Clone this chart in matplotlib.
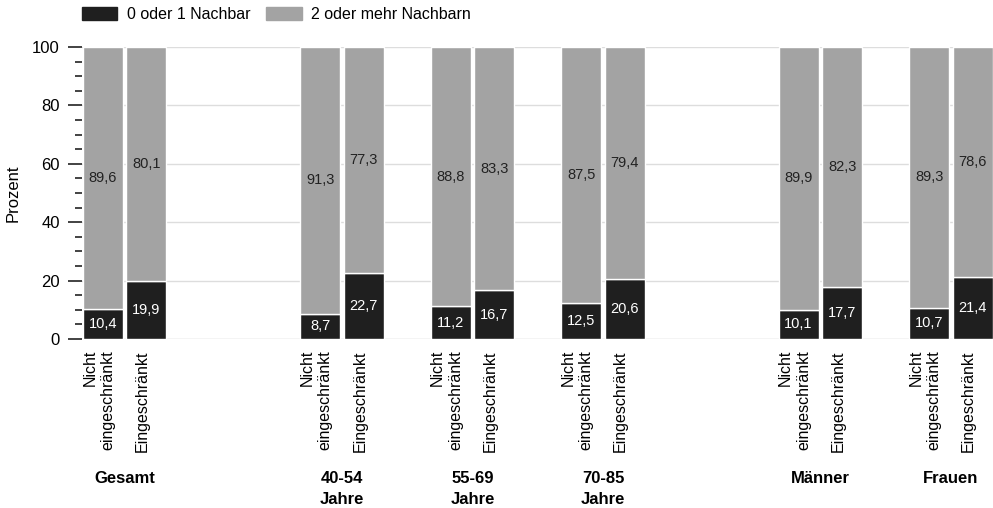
import matplotlib.pyplot as plt
import numpy as np
from matplotlib.patches import Patch
from matplotlib.ticker import MultipleLocator
from matplotlib.transforms import ScaledTranslation

plt.rcParams['font.family'] = ['Liberation Sans', 'DejaVu Sans']

groups = ["Gesamt", "40-54\nJahre", "55-69\nJahre", "70-85\nJahre", "Männer", "Frauen"]
bar_labels = ["Nicht\neingeschränkt", "Eingeschränkt"]
series_labels = ["0 oder 1 Nachbar", "2 oder mehr Nachbarn"]

# Nicht eingeschränkt
nicht_low = [10.4, 8.7, 11.2, 12.5, 10.1, 10.7]
nicht_high = [89.6, 91.3, 88.8, 87.5, 89.9, 89.3]
# Eingeschränkt
einge_low = [19.9, 22.7, 16.7, 20.6, 17.7, 21.4]
einge_high = [80.1, 77.3, 83.3, 79.4, 82.3, 78.6]

dark = "#1f1f1f"
grey = "#a3a3a3"

group_pos = np.array([0, 5, 8, 11, 16, 19])
width = 0.92

fig = plt.figure(figsize=(9.93, 5.08), dpi=100)
ax = fig.add_axes([82 / 993, 1 - 339 / 508, 1 - 82 / 993, 292 / 508])


def draw(x, low, high):
    b1 = ax.bar(x, low, width, color=dark, edgecolor="white", linewidth=1, zorder=3)
    b2 = ax.bar(x, high, width, bottom=low, color=grey, edgecolor="white", linewidth=1, zorder=3)
    for rect, v in zip(b1, low):
        ax.text(rect.get_x() + rect.get_width() / 2, v / 2, f"{v:.1f}".replace(".", ","),
                ha="center", va="center", color="white", fontsize=10.5, zorder=4)
    for rect, lo, v in zip(b2, low, high):
        ax.text(rect.get_x() + rect.get_width() / 2, lo + v / 2, f"{v:.1f}".replace(".", ","),
                ha="center", va="center", color="#222222", fontsize=10.5, zorder=4)


draw(group_pos, nicht_low, nicht_high)
draw(group_pos + 1, einge_low, einge_high)

ax.set_xlim(-0.48, 20.47)
ax.set_ylim(0, 100)
ax.yaxis.set_major_locator(MultipleLocator(20))
ax.yaxis.set_minor_locator(MultipleLocator(5))
ax.tick_params(axis="y", which="major", length=10, width=1.2, color="#222222",
               labelsize=12, pad=6)
ax.tick_params(axis="y", which="minor", length=5, width=1.2, color="#222222")
ax.grid(axis="y", color="#dddddd", linewidth=1, zorder=0)
ax.set_axisbelow(True)
for s in ax.spines.values():
    s.set_visible(False)
ax.axhline(0, color="#e6e6e6", linewidth=1, zorder=1)

xt = np.concatenate([group_pos, group_pos + 1])
xl = [bar_labels[0]] * len(groups) + [bar_labels[1]] * len(groups)
ax.set_xticks(xt)
ax.set_xticklabels(xl, rotation=90, fontsize=11.5, va="top", ha="center",
                   multialignment="right", linespacing=1.25)
ax.tick_params(axis="x", length=0, pad=8)
shift = ScaledTranslation(-4 / 100, 0, fig.dpi_scale_trans)
for lab in ax.get_xticklabels():
    lab.set_transform(lab.get_transform() + shift)

ax.set_ylabel("Prozent", fontsize=12, labelpad=8)

for g, p in zip(groups, group_pos):
    ax.text(p + 0.5, -0.452, g, transform=ax.get_xaxis_transform(), ha="center", va="top",
            fontsize=12, fontweight="bold", linespacing=1.5)

handles = [Patch(color=dark), Patch(color=grey)]
fig.legend(handles, series_labels, loc="upper left", bbox_to_anchor=(71 / 993, 1.008),
           ncol=2, frameon=False, fontsize=11.5, handlelength=2.2, handleheight=0.9,
           columnspacing=1.0, handletextpad=0.6, borderaxespad=0.3)

fig.savefig("out.png", dpi=100)
